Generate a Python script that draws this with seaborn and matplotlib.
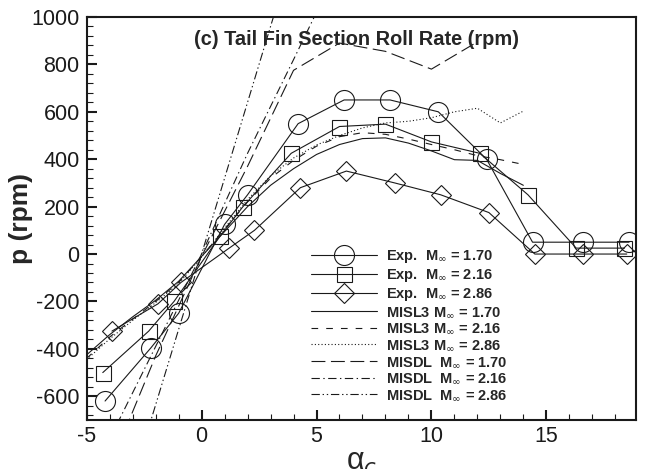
import matplotlib
matplotlib.use("Agg")
import matplotlib.pyplot as plt
from matplotlib.ticker import MultipleLocator
import seaborn as sns

# Experimental roll rate of the tail fin section, p (rpm), vs. alpha_c (deg)
exp_alpha_170 = [-4.2, -2.2, -1.0, 1.0, 2.0, 4.2, 6.2, 8.2, 10.3, 12.4, 14.4, 16.6, 18.6]
exp_p_170 = [-620, -395, -250, 125, 250, 550, 650, 650, 600, 400, 50, 50, 50]

exp_alpha_216 = [-4.3, -2.3, -1.2, 0.8, 1.8, 3.9, 6.0, 8.0, 10.0, 12.1, 14.2, 16.3, 18.4]
exp_p_216 = [-500, -325, -200, 75, 200, 425, 538, 548, 473, 425, 250, 25, 25]

exp_alpha_286 = [-3.9, -1.9, -0.9, 1.2, 2.3, 4.3, 6.3, 8.4, 10.4, 12.5, 14.5, 16.6, 18.5]
exp_p_286 = [-325, -210, -120, 25, 100, 280, 350, 300, 250, 175, 0, 0, 0]

# MISL3 predictions
misl3_alpha = [-5, -4, -3, -2, -1, 0, 1, 2, 3, 4, 5, 6, 7, 8, 9, 10, 11, 12, 13, 14]
misl3_p_170 = [-425, -340, -265, -195, -115, -10, 95, 200, 290, 360, 420, 462, 487, 490,
               468, 435, 398, 395, 340, 290]
misl3_p_216 = [-440, -350, -275, -200, -120, -10, 105, 220, 320, 395, 455, 495, 512, 505,
               485, 462, 440, 415, 398, 378]
misl3_p_286 = [-445, -358, -280, -205, -125, -12, 110, 230, 330, 405, 460, 500, 532, 553,
               560, 575, 600, 615, 553, 603]

# MISDL predictions
misdl_alpha_170 = [-4, -2, 0, 2, 4, 6, 8, 10, 12]
misdl_p_170 = [-900, -430, -10, 370, 775, 890, 855, 780, 895]
misdl_alpha_216 = [-4, -2, 0, 2, 4, 6]
misdl_p_216 = [-780, -390, 0, 425, 820, 1220]
misdl_alpha_286 = [-4, -2, 0, 2, 4]
misdl_p_286 = [-1270, -636, 0, 640, 1280]

mach_labels = ["1.70", "2.16", "2.86"]

sns.set_theme(style="ticks")
plt.rcParams["font.family"] = ["Liberation Sans", "DejaVu Sans"]
plt.rcParams["lines.scale_dashes"] = False
plt.rcParams["axes.unicode_minus"] = False

fig = plt.figure(figsize=(6.45, 4.69), dpi=100)
ax = fig.add_axes([0.1344, 0.1045, 0.8516, 0.8593])

lw = 0.8
exp_sets = [
    (exp_alpha_170, exp_p_170, "o", 14.4),
    (exp_alpha_216, exp_p_216, "s", 10.8),
    (exp_alpha_286, exp_p_286, "D", 10.2),
]
for (xa, ya, mk, ms), m in zip(exp_sets, mach_labels):
    sns.lineplot(x=xa, y=ya, ax=ax, color="k", linewidth=lw, marker=mk, markersize=ms,
                 markerfacecolor="none", markeredgecolor="k", markeredgewidth=lw,
                 errorbar=None, sort=False, label="Exp.  M$_\\infty$ = " + m)

misl3_sets = [
    (misl3_p_170, "-"),
    (misl3_p_216, (0, (4.8, 5.8))),
    (misl3_p_286, (0, (0.8, 1.6))),
]
for (ya, ls), m in zip(misl3_sets, mach_labels):
    sns.lineplot(x=misl3_alpha, y=ya, ax=ax, color="k", linewidth=lw, linestyle=ls,
                 errorbar=None, sort=False, label="MISL3 M$_\\infty$ = " + m)

misdl_sets = [
    (misdl_alpha_170, misdl_p_170, (0, (10, 4))),
    (misdl_alpha_216, misdl_p_216, (0, (6, 2.5, 1, 2.5))),
    (misdl_alpha_286, misdl_p_286, (0, (6, 2, 1, 2, 1, 2))),
]
for (xa, ya, ls), m in zip(misdl_sets, mach_labels):
    sns.lineplot(x=xa, y=ya, ax=ax, color="k", linewidth=lw, linestyle=ls,
                 errorbar=None, sort=False, label="MISDL  M$_\\infty$ = " + m)

ax.set_xlim(-5, 18.9)
ax.set_ylim(-700, 1000)
ax.xaxis.set_major_locator(MultipleLocator(5))
ax.xaxis.set_minor_locator(MultipleLocator(1))
ax.yaxis.set_major_locator(MultipleLocator(200))
ax.yaxis.set_minor_locator(MultipleLocator(40))
ax.tick_params(which="both", direction="in", bottom=True, left=True, top=False,
               right=False, colors="k", labelsize=15.5)
ax.tick_params(which="major", length=7, width=1.5)
ax.tick_params(which="minor", length=4, width=0.8)
ax.tick_params(axis="y", pad=5)
ax.tick_params(axis="x", pad=4)
for sp in ax.spines.values():
    sp.set_linewidth(1.5)
    sp.set_color("k")
    sp.set_visible(True)

ax.set_ylabel("p (rpm)", fontsize=19, fontweight="bold", va="center")
ax.yaxis.set_label_coords(-0.12, 0.5)
ax.set_xlabel("α$_c$", fontsize=22, labelpad=0)

ax.text(0.491, 0.943, "(c) Tail Fin Section Roll Rate (rpm)", transform=ax.transAxes,
        ha="center", va="center", fontsize=14.4, fontweight="bold")

handles, labels = ax.get_legend_handles_labels()
ax.legend(handles, labels, loc="upper left", bbox_to_anchor=(311 / 645, 1 - 248 / 469),
          bbox_transform=fig.transFigure, frameon=False,
          prop={"weight": "bold", "size": 10.5}, handlelength=4.5, handletextpad=0.65,
          labelspacing=0.14, borderpad=0, borderaxespad=0)

fig.savefig("out.png", dpi=100)
